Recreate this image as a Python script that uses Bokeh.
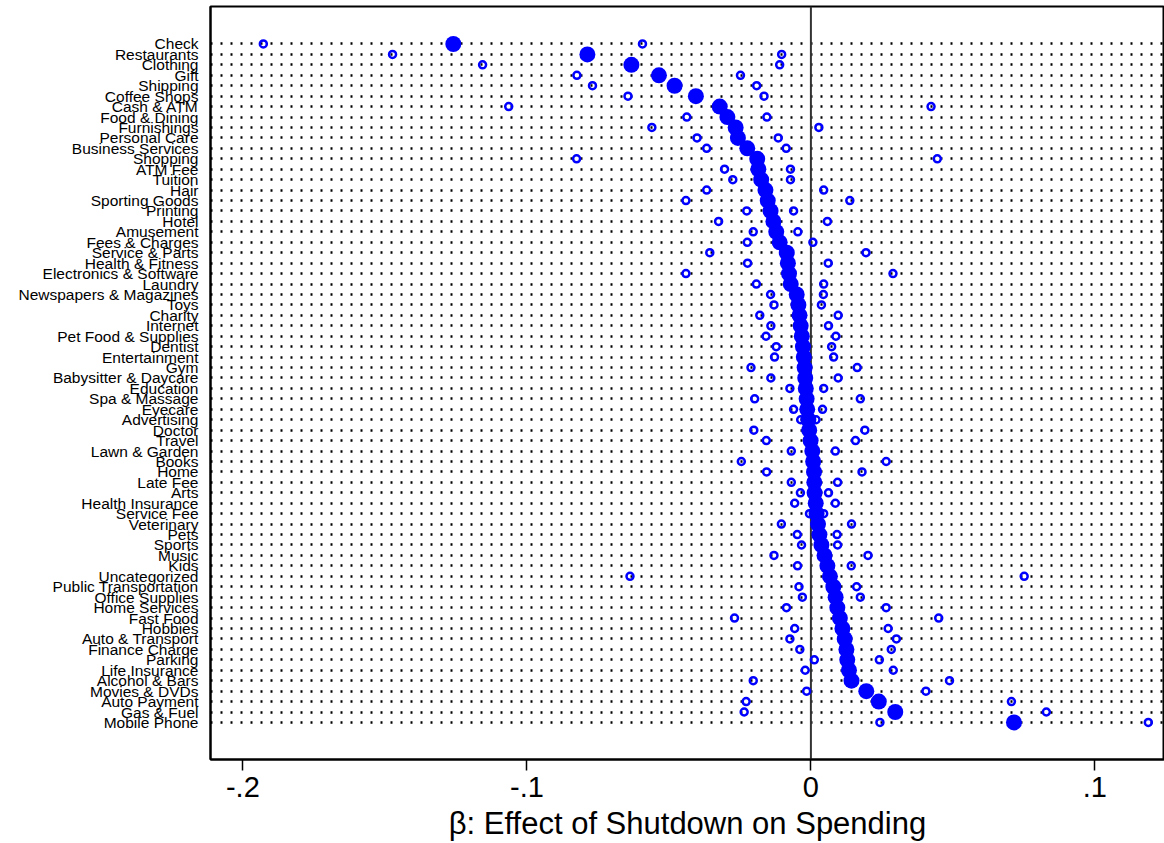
from bokeh.plotting import figure
from bokeh.models import Range1d, FixedTicker, Span, ColumnDataSource
from bokeh.embed import file_html
from bokeh.resources import INLINE

categories = [
    "Check", "Restaurants", "Clothing", "Gift", "Shipping", "Coffee Shops",
    "Cash & ATM", "Food & Dining", "Furnishings", "Personal Care",
    "Business Services", "Shopping", "ATM Fee", "Tuition", "Hair",
    "Sporting Goods", "Printing", "Hotel", "Amusement", "Fees & Charges",
    "Service & Parts", "Health & Fitness", "Electronics & Software", "Laundry",
    "Newspapers & Magazines", "Toys", "Charity", "Internet",
    "Pet Food & Supplies", "Dentist", "Entertainment", "Gym",
    "Babysitter & Daycare", "Education", "Spa & Massage", "Eyecare",
    "Advertising", "Doctor", "Travel", "Lawn & Garden", "Books", "Home",
    "Late Fee", "Arts", "Health Insurance", "Service Fee", "Veterinary", "Pets",
    "Sports", "Music", "Kids", "Uncategorized", "Public Transportation",
    "Office Supplies", "Home Services", "Fast Food", "Hobbies",
    "Auto & Transport", "Finance Charge", "Parking", "Life Insurance",
    "Alcohol & Bars", "Movies & DVDs", "Auto Payment", "Gas & Fuel",
    "Mobile Phone",
]

beta = [
    -0.1259, -0.0787, -0.0632, -0.0535, -0.0480, -0.0405,
    -0.0321, -0.0294, -0.0265, -0.0257,
    -0.0224, -0.0189, -0.0185, -0.0175, -0.0160,
    -0.0152, -0.0142, -0.0132, -0.0122, -0.0110,
    -0.0085, -0.0081, -0.0077, -0.0071,
    -0.0050, -0.0044, -0.0040, -0.0036,
    -0.0032, -0.0028, -0.0025, -0.0022,
    -0.0020, -0.0018, -0.0015, -0.0013,
    -0.0009, -0.0006, -0.0001, 0.0005, 0.0008, 0.0011,
    0.0012, 0.0013, 0.0017, 0.0020, 0.0025, 0.0030,
    0.0037, 0.0048, 0.0058, 0.0067, 0.0079,
    0.0087, 0.0093, 0.0102, 0.0111,
    0.0119, 0.0125, 0.0128, 0.0134,
    0.0143, 0.0195, 0.0239, 0.0297,
    0.0715,
]

ci_low = [
    -0.1928, -0.1473, -0.1156, -0.0824, -0.0769, -0.0644,
    -0.1064, -0.0437, -0.0560, -0.0401,
    -0.0367, -0.0825, -0.0304, -0.0275, -0.0367,
    -0.0440, -0.0226, -0.0325, -0.0203, -0.0224,
    -0.0356, -0.0223, -0.0440, -0.0192,
    -0.0142, -0.0130, -0.0180, -0.0141,
    -0.0158, -0.0122, -0.0128, -0.0211,
    -0.0141, -0.0074, -0.0198, -0.0061,
    -0.0036, -0.0201, -0.0157, -0.0069, -0.0245, -0.0156,
    -0.0069, -0.0037, -0.0057, -0.0005, -0.0104, -0.0048,
    -0.0033, -0.0130, -0.0047, -0.0637, -0.0042,
    -0.0030, -0.0086, -0.0269, -0.0057,
    -0.0074, -0.0039, 0.0012, -0.0020,
    -0.0203, -0.0015, -0.0228, -0.0235,
    0.0243,
]

ci_high = [
    -0.0593, -0.0103, -0.0110, -0.0248, -0.0191, -0.0165,
    0.0423, -0.0155, 0.0028, -0.0115,
    -0.0087, 0.0445, -0.0072, -0.0072, 0.0045,
    0.0137, -0.0061, 0.0058, -0.0046, 0.0007,
    0.0194, 0.0061, 0.0289, 0.0045,
    0.0044, 0.0037, 0.0096, 0.0062,
    0.0088, 0.0073, 0.0080, 0.0163,
    0.0096, 0.0045, 0.0174, 0.0041,
    0.0018, 0.0190, 0.0157, 0.0086, 0.0265, 0.0180,
    0.0094, 0.0062, 0.0086, 0.0045, 0.0143, 0.0092,
    0.0094, 0.0201, 0.0142, 0.0751, 0.0161,
    0.0174, 0.0265, 0.0450, 0.0272,
    0.0301, 0.0283, 0.0241, 0.0290,
    0.0488, 0.0405, 0.0706, 0.0829,
    0.1188,
]

x_ticks = [-0.2, -0.1, 0, 0.1]
x_tick_labels = ["-.2", "-.1", "0", ".1"]
x_title = "\u03b2: Effect of Shutdown on Spending"

FONT = "Liberation Sans"
BLUE = "#0000ff"

rows = list(range(len(categories)))
XMIN, XMAX = -0.2114, 0.1245
Y_TOP, Y_BOTTOM = -3.59, 68.55

src = ColumnDataSource(dict(row=rows, beta=beta, lo=ci_low, hi=ci_high))

p = figure(
    width=1164, height=843,
    x_range=Range1d(XMIN, XMAX), y_range=Range1d(Y_BOTTOM, Y_TOP),
    output_backend="svg", toolbar_location=None,
    min_border_left=210, min_border_right=0, min_border_top=6, min_border_bottom=83,
)
p.background_fill_color = "white"
p.border_fill_color = "white"
p.outline_line_color = "black"
p.outline_line_width = 2

# grid: dotted row lines
p.xgrid.visible = False
p.ygrid.ticker = FixedTicker(ticks=rows)
p.ygrid.grid_line_color = "black"
p.ygrid.grid_line_width = 2.5
p.ygrid.grid_line_dash = "2 8"

# y axis
p.yaxis.ticker = FixedTicker(ticks=rows)
p.yaxis.major_label_overrides = {r: c for r, c in zip(rows, categories)}
p.yaxis.major_tick_out = 0
p.yaxis.major_tick_in = 0
p.yaxis.minor_tick_line_color = None
p.yaxis.major_label_standoff = 12
p.yaxis.major_label_text_font = FONT
p.yaxis.major_label_text_font_size = "15.5px"
p.yaxis.major_label_text_color = "black"
p.yaxis.axis_line_color = "black"
p.yaxis.axis_line_width = 2

# x axis
p.xaxis.ticker = FixedTicker(ticks=x_ticks)
p.xaxis.major_label_overrides = {t: s for t, s in zip(x_ticks, x_tick_labels)}
p.xaxis.major_tick_out = 11
p.xaxis.major_tick_in = 0
p.xaxis.major_tick_line_width = 1.5
p.xaxis.major_tick_line_color = "black"
p.xaxis.minor_tick_line_color = None
p.xaxis.major_label_standoff = 6
p.xaxis.major_label_text_font = FONT
p.xaxis.major_label_text_font_size = "29px"
p.xaxis.major_label_text_color = "black"
p.xaxis.axis_line_color = "black"
p.xaxis.axis_line_width = 2
p.xaxis.axis_label = x_title
p.xaxis.axis_label_standoff = 6
p.xaxis.axis_label_text_font = FONT
p.xaxis.axis_label_text_font_size = "31px"
p.xaxis.axis_label_text_font_style = "normal"
p.xaxis.axis_label_text_color = "black"

# zero line
p.add_layout(Span(location=0, dimension="height", line_color="#333333",
                  line_width=2, level="underlay"))

# point estimates and CI bounds
p.scatter("beta", "row", source=src, size=16, fill_color=BLUE, line_color=None)
p.scatter("lo", "row", source=src, size=7, fill_color=None, line_color=BLUE, line_width=2.5)
p.scatter("hi", "row", source=src, size=7, fill_color=None, line_color=BLUE, line_width=2.5)

open("out.html", "w").write(file_html(p, INLINE))
